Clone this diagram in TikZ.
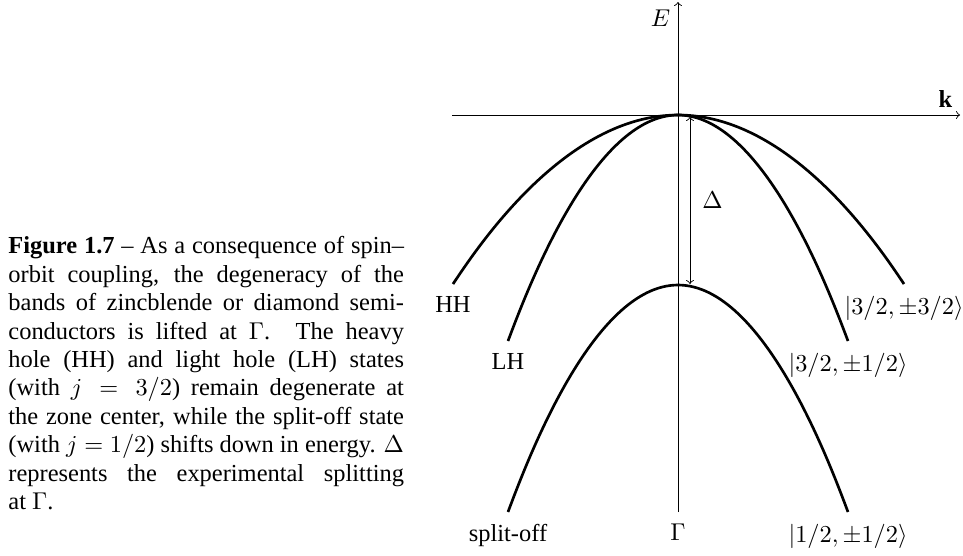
\documentclass[tikz,border=0pt]{standalone}
\usepackage{fontspec}
\setmainfont{Liberation Serif}
\begin{document}
\begin{tikzpicture}
[x=0.45pt, y=-0.45pt, font=\fontsize{11}{12.8}\selectfont, >=to]
\tikzstyle{band}=[very thick]
\tikzstyle{axis}=[thin, ->]
\tikzstyle{tag}=[below=2pt]
\useasboundingbox (0,0) rectangle (963,555);
% caption
\node[anchor=north west, inner sep=0pt, text width=178pt, align=justify] (caption) at (8,236)
  {\textbf{Figure 1.7} -- As a consequence of spin--\linebreak
   orbit coupling, the degeneracy of the\linebreak
   bands of zincblende or diamond semi-\linebreak
   conductors is lifted at $\Gamma$.  The heavy\linebreak
   hole (HH) and light hole (LH) states\linebreak
   (with $j = 3/2$) remain degenerate at\linebreak
   the zone center, while the split-off state\linebreak
   (with $j = 1/2$) shifts down in energy. $\Delta$\linebreak
   represents the experimental splitting\linebreak
   at $\Gamma$.};
% axes
\coordinate (O)    at (678,115);
\coordinate (Ebot) at (678,512);
\coordinate (Etop) at (678,2);
\coordinate (kl)   at (452,115);
\coordinate (kr)   at (960,115);
\draw[axis] (Ebot) -- (Etop) node[below left] (E) {$E$};
\draw[axis] (kl) -- (kr) node[above left] (k) {$\mathbf{k}$};
\node[tag] (gamma) at (Ebot) {$\Gamma$};
% band ends
\coordinate (HHl) at (453,284);
\coordinate (HHr) at (904,284);
\coordinate (LHl) at (508,341);
\coordinate (LHr) at (848,341);
\coordinate (SO)  at (678,285);
\coordinate (SOl) at (508,512);
\coordinate (SOr) at (848,512);
\draw[band] (HHl) parabola bend (O) (HHr);
\draw[band] (LHl) parabola bend (O) (LHr);
\draw[band] (SOl) parabola bend (SO) (SOr);
\node[tag] (hh)  at (HHl) {HH};
\node[tag] (lh)  at (LHl) {LH};
\node[tag] (so)  at (SOl) {split-off};
\node[tag] (hhr) at (HHr) {$|3/2,\pm3/2\rangle$};
\node[tag] (lhr) at (LHr) {$|3/2,\pm1/2\rangle$};
\node[tag] (sor) at (SOr) {$|1/2,\pm1/2\rangle$};
% splitting
\coordinate (Dtop) at (690,117);
\coordinate (Dbot) at (690,284);
\draw[thin, <->] (Dtop) -- (Dbot) node[midway, right=2pt] (delta) {$\Delta$};
\end{tikzpicture}
\end{document}
